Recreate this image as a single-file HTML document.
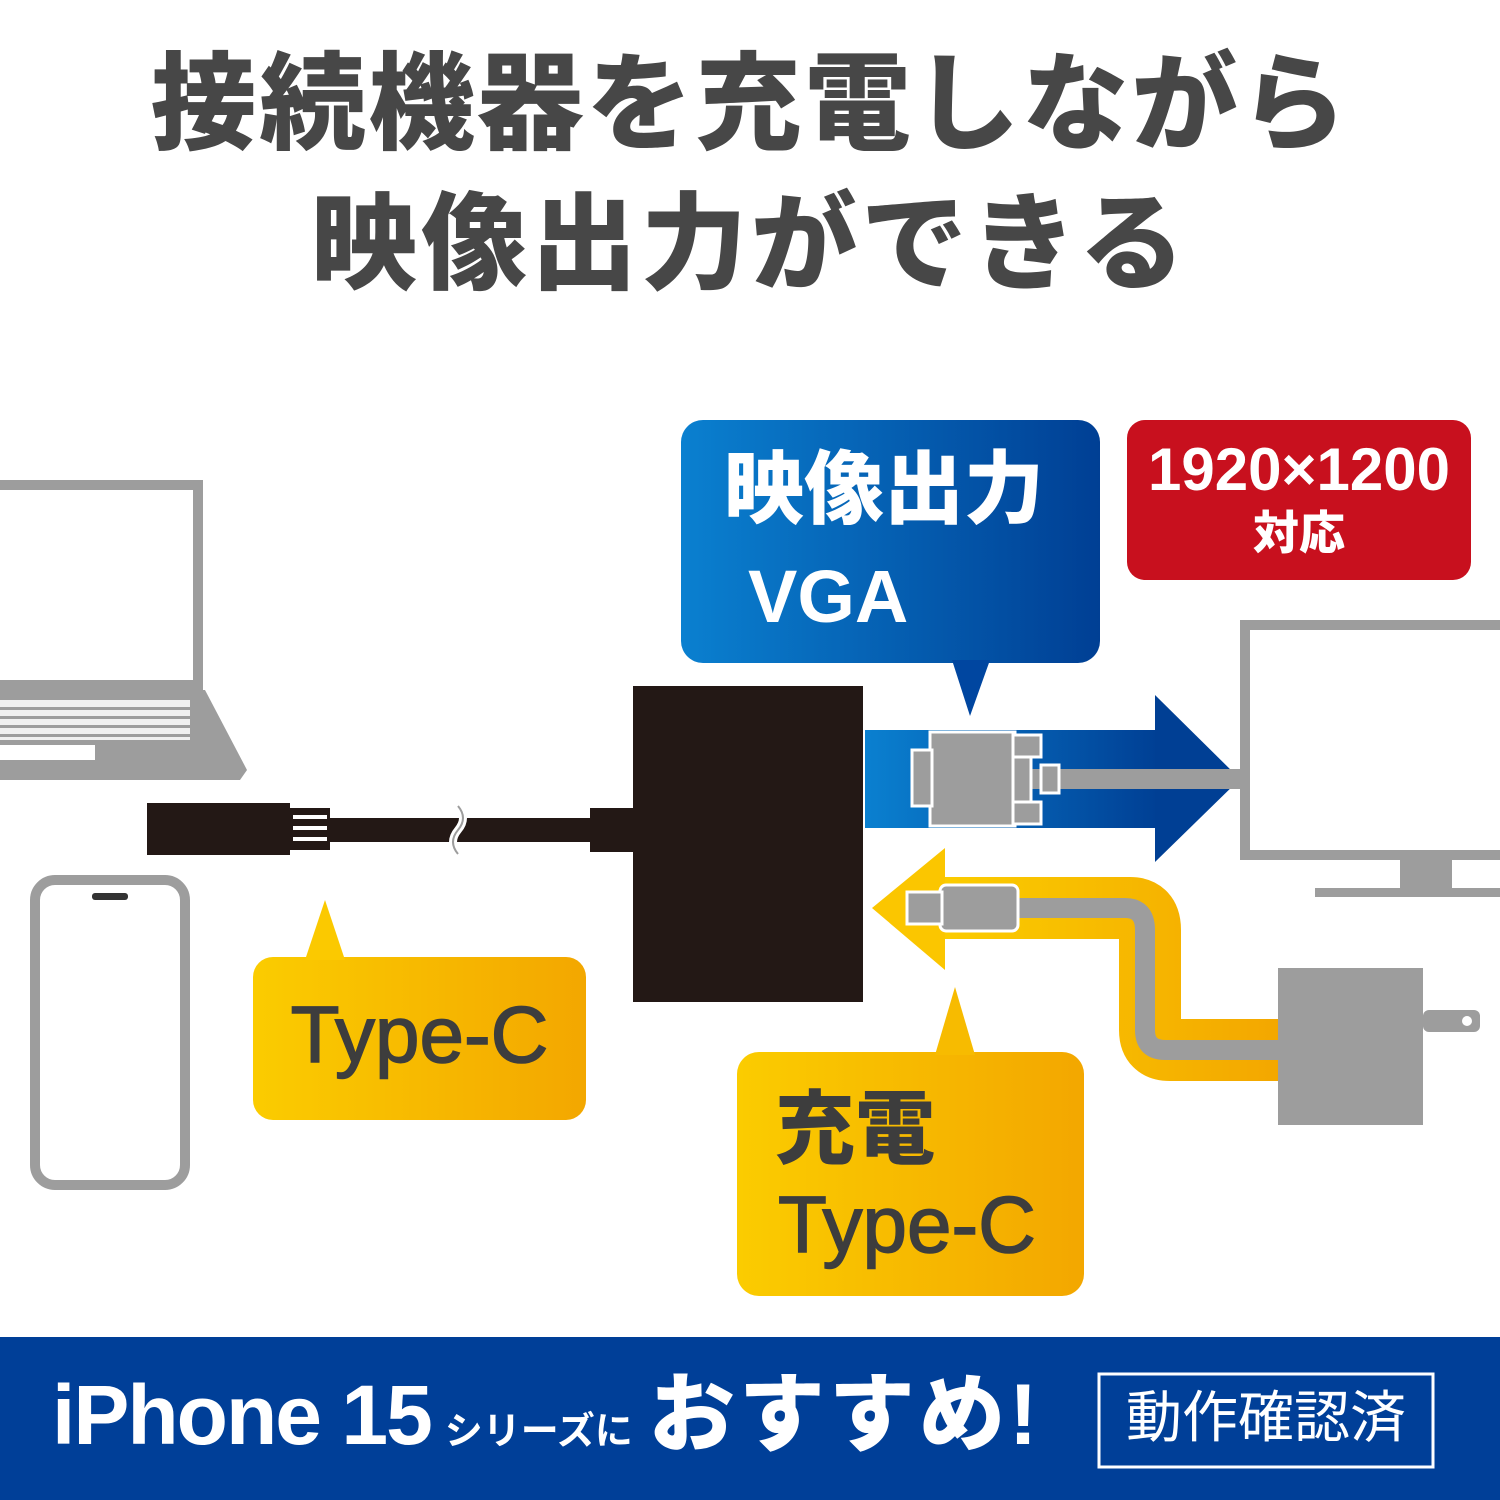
<!DOCTYPE html>
<html><head><meta charset="utf-8"><style>
body{margin:0;width:1500px;height:1500px;position:relative;background:#fff;overflow:hidden;font-family:"Liberation Sans","Noto Sans CJK JP",sans-serif}
.a{position:absolute}
.t{position:absolute;left:0;width:1500px;text-align:center;color:#474747;font-weight:900;font-size:106px;line-height:1;letter-spacing:3px}
</style></head><body>
<div class="t" style="top:52px">接続機器を充電しながら</div>
<div class="t" style="top:192px;letter-spacing:4px">映像出力ができる</div>

<svg class="a" style="left:0;top:0" width="1500" height="1500">
<defs>
<linearGradient id="bl" x1="0" x2="1"><stop offset="0" stop-color="#0a80d0"/><stop offset="1" stop-color="#003f94"/></linearGradient>
<linearGradient id="yl" x1="0" x2="1"><stop offset="0" stop-color="#fbcc00"/><stop offset="1" stop-color="#f3a700"/></linearGradient>
</defs>
<rect x="-10" y="485" width="208" height="200" fill="#fff" stroke="#9d9d9d" stroke-width="10"/>
<polygon points="0,690 205,690 247,770 240,780 0,780" fill="#9d9d9d"/>
<rect x="0" y="700" width="190" height="40" fill="#fff" opacity="0.85"/>
<g fill="#9d9d9d">
<rect x="0" y="707" width="190" height="3"/><rect x="0" y="716" width="190" height="3"/><rect x="0" y="725" width="190" height="3"/><rect x="0" y="734" width="190" height="3"/>
</g>
<rect x="0" y="745" width="95" height="15" fill="#fff"/>
<rect x="35" y="880" width="150" height="305" rx="20" fill="#fff" stroke="#9d9d9d" stroke-width="10"/>
<rect x="92" y="893" width="36" height="7" rx="3" fill="#333"/>
<rect x="147" y="803" width="143" height="52" fill="#231815"/>
<rect x="290" y="808" width="40" height="42" fill="#231815"/>
<g fill="#fff"><rect x="293" y="815" width="34" height="4"/><rect x="293" y="826" width="34" height="4"/><rect x="293" y="837" width="34" height="4"/></g>
<rect x="330" y="818" width="262" height="24" fill="#231815"/>
<path d="M458 806 q10 12 0 24 q-10 12 0 24" stroke="#fff" stroke-width="8" fill="none"/>
<path d="M458 806 q10 12 0 24 q-10 12 0 24" stroke="#9d9d9d" stroke-width="2" fill="none"/>
<rect x="590" y="808" width="43" height="44" fill="#231815"/>
<rect x="633" y="686" width="230" height="316" fill="#231815"/>
<rect x="681" y="420" width="419" height="243" rx="22" fill="url(#bl)"/>
<polygon points="952,660 990,660 970,716" fill="#0046a0"/>
<rect x="1127" y="420" width="344" height="160" rx="18" fill="#c8101e"/>
<rect x="865" y="730" width="295" height="98" fill="url(#bl)"/>
<polygon points="1155,695 1240,779 1155,862" fill="#003f94"/>
<rect x="1030" y="769" width="210" height="20" fill="#9d9d9d"/>
<rect x="930" y="732" width="85" height="94" fill="#9d9d9d" stroke="#fff" stroke-width="3"/>
<rect x="912" y="750" width="20" height="56" fill="#9d9d9d" stroke="#fff" stroke-width="3"/>
<rect x="1013" y="735" width="28" height="22" fill="#9d9d9d" stroke="#fff" stroke-width="3"/>
<rect x="1013" y="802" width="28" height="22" fill="#9d9d9d" stroke="#fff" stroke-width="3"/>
<rect x="1013" y="757" width="18" height="45" fill="#9d9d9d" stroke="#fff" stroke-width="3"/>
<rect x="1041" y="765" width="18" height="28" fill="#9d9d9d" stroke="#fff" stroke-width="3"/>
<rect x="1245" y="625" width="270" height="230" fill="#fff" stroke="#9d9d9d" stroke-width="10"/>
<rect x="1400" y="860" width="52" height="28" fill="#9d9d9d"/>
<rect x="1315" y="888" width="190" height="9" fill="#9d9d9d"/>
<path d="M945 908 H1130 Q1150 908 1150 930 V1030 Q1150 1050 1170 1050 H1280" stroke="url(#yl)" stroke-width="62" fill="none" stroke-linejoin="round"/>
<polygon points="945,848 872,908 945,970" fill="#fbc600"/>
<path d="M1010 908 H1125 Q1145 908 1145 930 V1030 Q1145 1050 1165 1050 H1280" stroke="#9d9d9d" stroke-width="20" fill="none"/>
<rect x="940" y="885" width="78" height="46" rx="6" fill="#9d9d9d" stroke="#fff" stroke-width="3"/>
<rect x="907" y="892" width="35" height="32" fill="#9d9d9d" stroke="#fff" stroke-width="3"/>
<rect x="1278" y="968" width="145" height="157" fill="#9d9d9d"/>
<rect x="1423" y="1010" width="57" height="22" rx="6" fill="#9d9d9d"/>
<circle cx="1467" cy="1021" r="5" fill="#fff"/>
<rect x="253" y="957" width="333" height="163" rx="20" fill="url(#yl)"/>
<polygon points="305,960 345,960 325,900" fill="#fbc900"/>
<rect x="737" y="1052" width="347" height="244" rx="22" fill="url(#yl)"/>
<polygon points="935,1055 975,1055 955,987" fill="#f7bb00"/>
<rect x="0" y="1337" width="1500" height="163" fill="#003f98"/>
<rect x="1099" y="1374" width="334" height="93" fill="none" stroke="#fff" stroke-width="3"/>
</svg>

<div class="a" style="left:724px;top:450px;color:#fff;font-weight:900;font-size:80px;line-height:1">映像出力</div>
<div class="a" style="left:748px;top:560px;color:#fff;font-weight:700;font-size:74px;line-height:1">VGA</div>
<div class="a" style="left:1127px;top:440px;width:344px;text-align:center;color:#fff;font-weight:700;font-size:60px;line-height:1">1920×1200</div>
<div class="a" style="left:1127px;top:510px;width:344px;text-align:center;color:#fff;font-weight:900;font-size:46px;line-height:1">対応</div>
<div class="a" style="left:253px;top:995px;width:333px;text-align:center;color:#3d3d3d;font-size:80px;line-height:1;-webkit-text-stroke:1.5px #3d3d3d">Type-C</div>
<div class="a" style="left:775px;top:1090px;color:#3d3d3d;font-weight:900;font-size:80px;line-height:1">充電</div>
<div class="a" style="left:778px;top:1185px;color:#3d3d3d;font-size:80px;line-height:1;-webkit-text-stroke:1.5px #3d3d3d">Type-C</div>
<div class="a" style="left:52px;top:1372px;color:#fff;font-weight:700;font-size:84px;line-height:1;letter-spacing:-2px;white-space:nowrap">iPhone 15<span style="font-size:38px;letter-spacing:0;margin-left:14px">シリーズに</span><span style="font-weight:900;font-size:86px;letter-spacing:4px;margin-left:16px">おすすめ!</span></div>
<div class="a" style="left:1099px;top:1390px;width:334px;text-align:center;color:#fff;font-size:56px;line-height:1">動作確認済</div>
</body></html>
